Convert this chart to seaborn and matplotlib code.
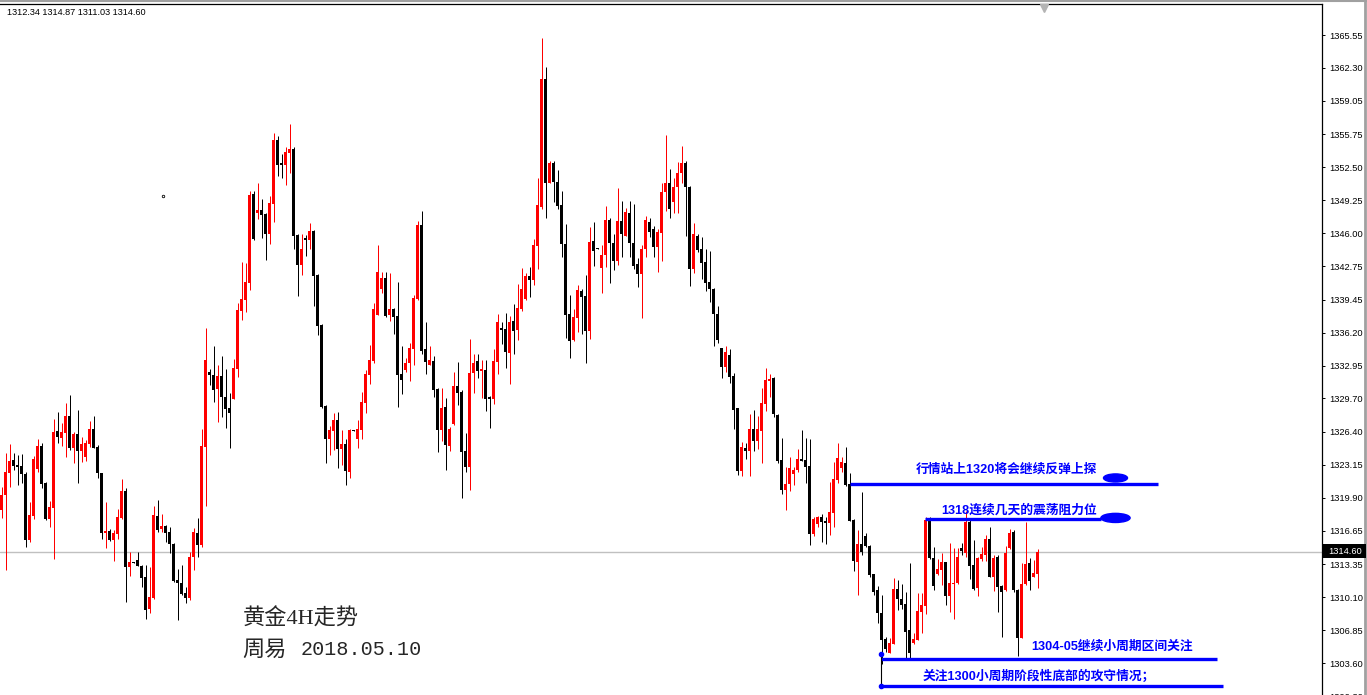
import matplotlib
matplotlib.use("Agg")
import numpy as np
import pandas as pd
import matplotlib.pyplot as plt
import seaborn as sns
from matplotlib.patches import Ellipse, Rectangle
from matplotlib.lines import Line2D

# gold 4H candles (open / high / low / close)
opens = [
    1318.70, 1320.18, 1322.38, 1323.63, 1323.14, 1323.04, 1322.25, 1315.74, 1318.11, 1322.71,
    1325.01, 1321.40, 1317.85, 1318.93, 1326.49, 1325.83, 1326.33, 1327.97, 1324.78, 1326.20,
    1324.55, 1323.96, 1325.21, 1326.69, 1324.95, 1322.32, 1316.47, 1316.63, 1315.74, 1316.33,
    1317.91, 1320.57, 1313.11, 1313.51, 1313.77, 1313.21, 1312.13, 1308.91, 1309.99, 1318.14,
    1316.83, 1317.12, 1316.53, 1315.35, 1311.80, 1311.54, 1310.48, 1310.02, 1314.07, 1316.47,
    1315.25, 1324.92, 1332.35, 1332.02, 1330.61, 1331.92, 1329.89, 1328.74, 1329.69, 1332.65,
    1338.37, 1339.42, 1341.13, 1349.87, 1348.03, 1348.29, 1347.90, 1345.93, 1348.88, 1355.20,
    1352.96, 1352.73, 1353.95, 1354.31, 1345.83, 1342.90, 1345.56, 1345.37, 1346.22, 1341.88,
    1336.95, 1328.96, 1325.71, 1326.53, 1327.58, 1324.75, 1325.21, 1322.49, 1326.50, 1325.74,
    1326.60, 1329.29, 1332.02, 1333.43, 1337.94, 1340.50, 1341.62, 1337.94, 1338.53, 1337.84,
    1332.11, 1332.51, 1333.17, 1334.58, 1339.55, 1346.81, 1334.55, 1333.04, 1333.40, 1330.64,
    1326.60, 1328.86, 1325.02, 1327.19, 1330.94, 1330.38, 1324.53, 1322.98, 1332.18, 1333.40,
    1332.45, 1332.51, 1329.82, 1329.62, 1333.33, 1336.56, 1336.56, 1334.22, 1337.34, 1336.46,
    1338.56, 1339.48, 1341.78, 1341.39, 1344.77, 1348.62, 1361.21, 1350.98, 1352.96, 1351.05,
    1348.78, 1344.94, 1338.04, 1335.47, 1337.67, 1340.30, 1339.81, 1336.36, 1345.20, 1344.48,
    1342.60, 1343.85, 1347.31, 1345.00, 1343.29, 1347.21, 1345.76, 1348.00, 1345.00, 1342.93,
    1341.98, 1344.41, 1347.08, 1346.38, 1344.68, 1346.06, 1350.03, 1350.92, 1349.11, 1350.59,
    1351.91, 1352.96, 1350.53, 1342.51, 1345.73, 1344.41, 1343.13, 1341.19, 1340.47, 1338.00,
    1334.65, 1332.84, 1333.99, 1331.92, 1328.73, 1322.55, 1324.82, 1324.56, 1326.66, 1325.55,
    1326.53, 1329.16, 1331.46, 1331.69, 1328.08, 1323.64, 1320.68, 1321.27, 1322.26, 1322.65,
    1323.74, 1323.64, 1323.05, 1316.34, 1317.33, 1317.99, 1317.53, 1317.46, 1318.45, 1321.67,
    1322.88, 1323.38, 1321.27, 1317.72, 1313.61, 1315.32, 1316.14, 1315.16, 1312.36, 1310.82,
    1308.52, 1305.99, 1304.64, 1305.49, 1310.92, 1309.93, 1309.44, 1306.87, 1305.56, 1305.89,
    1308.68, 1309.27, 1317.72, 1314.01, 1312.40, 1312.79, 1313.55, 1310.26, 1311.41, 1311.48,
    1314.93, 1314.43, 1317.56, 1313.28, 1310.98, 1313.88, 1314.27, 1315.85, 1312.13, 1314.11,
    1311.21, 1310.82, 1314.93, 1316.57, 1310.82, 1306.12, 1311.41, 1313.45, 1312.13, 1312.34,
]
highs = [
    1321.00, 1324.29, 1325.21, 1324.29, 1324.12, 1324.22, 1322.40, 1319.49, 1324.03, 1325.70,
    1325.27, 1321.45, 1319.56, 1327.64, 1328.36, 1327.25, 1329.22, 1330.04, 1326.43, 1328.56,
    1325.93, 1325.60, 1327.48, 1328.00, 1325.11, 1322.38, 1319.49, 1316.79, 1316.73, 1318.77,
    1321.76, 1320.90, 1314.56, 1313.55, 1314.56, 1313.28, 1313.28, 1313.08, 1319.10, 1319.69,
    1318.31, 1317.22, 1317.06, 1315.41, 1312.85, 1313.28, 1311.14, 1314.53, 1316.96, 1317.94,
    1326.69, 1336.65, 1332.58, 1334.88, 1333.01, 1333.90, 1332.65, 1330.21, 1333.57, 1339.09,
    1343.20, 1343.03, 1350.17, 1350.20, 1350.92, 1349.38, 1347.96, 1349.67, 1355.92, 1355.59,
    1353.81, 1354.54, 1356.77, 1354.54, 1345.92, 1345.92, 1345.83, 1347.04, 1346.32, 1341.95,
    1337.05, 1329.06, 1326.99, 1328.30, 1328.40, 1326.60, 1325.71, 1326.70, 1326.55, 1327.58,
    1330.38, 1332.51, 1334.98, 1339.15, 1344.84, 1342.18, 1342.18, 1342.11, 1338.66, 1341.22,
    1334.88, 1333.66, 1335.14, 1339.91, 1347.21, 1348.19, 1337.25, 1334.88, 1333.89, 1330.70,
    1330.71, 1329.78, 1326.86, 1332.35, 1333.30, 1330.54, 1326.33, 1335.57, 1334.12, 1334.12,
    1333.50, 1333.50, 1329.98, 1334.58, 1338.03, 1337.25, 1338.10, 1337.87, 1339.02, 1340.99,
    1342.57, 1342.11, 1342.64, 1345.43, 1351.48, 1365.28, 1362.42, 1353.12, 1353.12, 1352.23,
    1350.20, 1346.91, 1339.91, 1338.50, 1340.90, 1340.53, 1341.88, 1346.58, 1347.08, 1344.55,
    1344.84, 1348.69, 1347.47, 1345.89, 1350.43, 1349.18, 1348.46, 1349.21, 1348.88, 1343.52,
    1344.84, 1347.70, 1347.47, 1346.75, 1346.38, 1350.99, 1355.69, 1352.30, 1351.41, 1353.06,
    1354.64, 1353.12, 1350.66, 1347.01, 1345.92, 1345.60, 1344.45, 1344.25, 1340.57, 1338.82,
    1334.70, 1334.88, 1334.58, 1332.19, 1328.80, 1325.45, 1325.28, 1328.17, 1328.57, 1327.98,
    1330.71, 1332.68, 1332.12, 1331.80, 1328.15, 1325.78, 1322.92, 1323.90, 1322.98, 1324.69,
    1326.60, 1325.78, 1325.68, 1318.05, 1318.12, 1318.28, 1318.05, 1321.50, 1323.47, 1325.28,
    1323.97, 1324.95, 1322.32, 1317.80, 1316.74, 1320.52, 1316.41, 1315.20, 1312.40, 1311.21,
    1310.33, 1306.22, 1306.05, 1312.03, 1311.80, 1311.41, 1310.65, 1313.45, 1306.55, 1310.49,
    1310.49, 1318.05, 1317.98, 1315.03, 1313.84, 1314.43, 1313.61, 1315.42, 1314.93, 1314.93,
    1315.42, 1318.61, 1317.72, 1315.75, 1314.11, 1315.09, 1316.24, 1317.06, 1314.27, 1314.27,
    1311.30, 1315.16, 1316.80, 1316.74, 1310.90, 1313.45, 1317.56, 1314.01, 1313.78, 1314.87,
]
lows = [
    1317.88, 1312.78, 1321.00, 1322.65, 1321.17, 1321.40, 1315.08, 1315.58, 1317.78, 1322.48,
    1320.84, 1317.71, 1317.06, 1313.87, 1325.27, 1325.01, 1323.96, 1324.62, 1323.37, 1321.40,
    1323.47, 1323.53, 1324.95, 1324.78, 1321.82, 1315.81, 1314.99, 1315.64, 1313.70, 1315.87,
    1317.85, 1309.66, 1312.19, 1313.45, 1313.18, 1311.14, 1307.92, 1308.51, 1309.89, 1316.56,
    1316.56, 1315.58, 1314.43, 1311.63, 1307.85, 1310.32, 1309.50, 1309.83, 1312.78, 1314.10,
    1315.08, 1319.10, 1331.04, 1329.39, 1327.42, 1327.91, 1326.83, 1324.79, 1329.62, 1331.79,
    1337.45, 1338.27, 1340.40, 1345.33, 1347.37, 1345.56, 1343.36, 1344.94, 1347.14, 1351.65,
    1351.48, 1350.76, 1351.97, 1344.48, 1339.84, 1341.88, 1343.76, 1344.41, 1338.86, 1335.96,
    1328.73, 1323.37, 1324.13, 1324.62, 1322.88, 1323.14, 1321.17, 1321.89, 1326.45, 1324.82,
    1325.71, 1328.30, 1331.13, 1333.24, 1337.90, 1340.07, 1337.77, 1337.38, 1336.06, 1328.90,
    1330.14, 1332.35, 1331.46, 1333.01, 1339.42, 1334.09, 1332.11, 1333.01, 1329.88, 1324.46,
    1325.54, 1322.65, 1324.56, 1327.10, 1329.06, 1319.86, 1322.45, 1320.68, 1330.28, 1331.76,
    1329.72, 1328.50, 1326.83, 1329.16, 1332.11, 1335.08, 1332.74, 1331.10, 1334.09, 1335.47,
    1338.36, 1339.42, 1339.74, 1340.89, 1342.50, 1348.39, 1347.53, 1350.92, 1349.11, 1348.36,
    1343.69, 1335.70, 1333.66, 1335.37, 1336.29, 1336.06, 1333.24, 1335.54, 1342.77, 1344.40,
    1340.07, 1342.64, 1341.13, 1342.37, 1342.87, 1343.69, 1345.73, 1343.69, 1342.44, 1340.73,
    1337.61, 1343.69, 1345.66, 1343.69, 1342.18, 1343.29, 1348.23, 1347.47, 1347.96, 1347.96,
    1350.92, 1345.73, 1340.83, 1342.11, 1344.18, 1341.49, 1340.30, 1339.25, 1334.91, 1335.14,
    1331.69, 1332.35, 1331.26, 1326.70, 1322.16, 1322.09, 1323.74, 1322.09, 1324.56, 1324.69,
    1323.38, 1328.50, 1329.82, 1327.91, 1323.31, 1320.29, 1318.71, 1320.61, 1321.17, 1322.42,
    1323.50, 1321.40, 1315.26, 1316.18, 1317.06, 1315.59, 1315.36, 1316.24, 1317.06, 1321.40,
    1322.42, 1321.10, 1317.60, 1312.73, 1310.33, 1314.27, 1315.09, 1312.07, 1310.33, 1307.60,
    1303.52, 1304.67, 1304.57, 1305.45, 1308.85, 1308.91, 1304.08, 1304.08, 1305.49, 1305.85,
    1306.55, 1308.42, 1313.90, 1310.82, 1312.30, 1311.31, 1309.34, 1308.68, 1307.96, 1311.40,
    1314.27, 1314.11, 1311.87, 1310.82, 1310.23, 1313.71, 1313.71, 1312.07, 1310.75, 1308.68,
    1306.15, 1310.75, 1314.83, 1310.65, 1304.31, 1306.05, 1311.31, 1310.82, 1312.07, 1311.03,
]
closes = [
    1320.18, 1322.48, 1323.53, 1323.04, 1322.94, 1322.22, 1315.74, 1318.21, 1323.73, 1325.01,
    1321.26, 1317.81, 1319.00, 1326.39, 1325.87, 1326.39, 1327.97, 1324.78, 1326.20, 1324.55,
    1325.21, 1325.34, 1326.69, 1324.85, 1322.32, 1316.47, 1316.63, 1315.74, 1316.40, 1318.04,
    1320.57, 1313.11, 1313.57, 1313.48, 1313.21, 1312.03, 1308.84, 1310.09, 1318.21, 1316.73,
    1317.16, 1316.47, 1315.35, 1311.70, 1311.54, 1310.42, 1310.02, 1314.07, 1316.53, 1315.25,
    1325.01, 1333.50, 1332.02, 1330.54, 1331.92, 1329.89, 1328.70, 1328.31, 1332.68, 1338.43,
    1339.48, 1341.19, 1349.77, 1345.47, 1348.29, 1347.80, 1345.93, 1348.95, 1355.20, 1352.73,
    1352.73, 1353.98, 1354.31, 1345.73, 1342.90, 1344.45, 1345.37, 1346.22, 1341.78, 1336.85,
    1328.90, 1325.71, 1326.60, 1327.58, 1324.75, 1325.21, 1322.58, 1326.60, 1326.48, 1326.69,
    1329.39, 1332.12, 1333.50, 1338.53, 1342.18, 1341.62, 1337.84, 1338.53, 1337.77, 1332.02,
    1331.52, 1333.17, 1334.65, 1339.58, 1346.81, 1334.39, 1333.33, 1333.50, 1330.54, 1326.60,
    1328.80, 1325.12, 1326.73, 1330.94, 1330.28, 1324.46, 1322.98, 1332.25, 1333.24, 1332.45,
    1332.55, 1329.65, 1329.62, 1333.43, 1337.25, 1336.49, 1334.32, 1337.25, 1336.39, 1338.66,
    1340.53, 1341.78, 1341.39, 1344.84, 1348.78, 1361.21, 1350.98, 1352.96, 1351.05, 1348.72,
    1344.94, 1337.93, 1335.41, 1337.71, 1340.40, 1339.74, 1336.36, 1345.14, 1344.28, 1344.45,
    1343.85, 1347.31, 1345.00, 1343.29, 1347.21, 1345.92, 1348.06, 1345.00, 1342.80, 1341.98,
    1344.45, 1347.31, 1346.15, 1344.68, 1346.15, 1350.10, 1350.92, 1348.39, 1350.53, 1351.91,
    1352.89, 1350.53, 1342.51, 1345.92, 1344.35, 1343.10, 1341.12, 1340.47, 1338.00, 1335.47,
    1332.84, 1334.32, 1331.86, 1328.57, 1322.55, 1324.89, 1324.56, 1326.66, 1325.55, 1326.66,
    1329.23, 1331.53, 1331.59, 1328.14, 1323.57, 1320.68, 1321.27, 1322.88, 1322.65, 1323.74,
    1323.57, 1322.98, 1316.34, 1317.82, 1317.99, 1317.53, 1317.46, 1318.48, 1321.77, 1323.87,
    1323.47, 1321.17, 1317.66, 1313.68, 1315.32, 1314.60, 1315.16, 1312.30, 1310.65, 1308.52,
    1305.89, 1304.97, 1305.56, 1310.92, 1309.93, 1309.34, 1306.71, 1304.57, 1305.99, 1308.75,
    1309.34, 1317.72, 1313.94, 1311.25, 1312.86, 1313.61, 1310.26, 1311.48, 1311.54, 1314.11,
    1314.70, 1317.56, 1313.22, 1310.92, 1313.94, 1314.37, 1315.85, 1312.13, 1313.94, 1311.15,
    1310.65, 1314.43, 1316.47, 1310.82, 1306.12, 1311.41, 1313.38, 1311.74, 1312.53, 1314.60,
]

price_ticks = [1365.55, 1362.30, 1359.05, 1355.75, 1352.50, 1349.25, 1346.00, 1342.75,
               1339.45, 1336.20, 1332.95, 1329.70, 1326.40, 1323.15, 1319.90, 1316.65,
               1313.35, 1310.10, 1306.85, 1303.60, 1300.30]
last_bar = [1312.34, 1314.87, 1311.03, 1314.60]
current_price = 1314.60

# drawn levels and their notes
level_prices = [1321.27, 1317.79, 1303.98, 1301.35]
level_notes = ["行情站上1320将会继续反弹上探", "1318连续几天的震荡阻力位",
               "1304-05继续小周期区间关注", "关注1300小周期阶段性底部的攻守情况；"]
title_lines = ["黄金4H走势", "周易", "2018.05.10"]

df = pd.DataFrame({"open": opens, "high": highs, "low": lows, "close": closes})
df["x"] = np.arange(len(df))
df["up"] = df["close"] >= df["open"]
df["bottom"] = df[["open", "close"]].min(axis=1)
df["body"] = (df["close"] - df["open"]).abs().clip(lower=0.12)
colors = np.where(df["up"], "#ff0000", "#000000")

sns.set_style("white")
plt.rcParams["font.family"] = ["Liberation Sans", "Noto Sans CJK SC", "DejaVu Sans"]

W, H = 1367, 695
fig = plt.figure(figsize=(W / 100, H / 100), dpi=100)
fig.patch.set_facecolor("white")
ax = fig.add_axes([0, -0.0037, 1322 / W, 0.99794])
ax.set_facecolor("white")

ax.axhline(current_price, color="#c0c0c0", lw=1, zorder=1)
ax.vlines(df["x"], df["low"], df["high"], colors=colors, lw=0.72, zorder=2)
ax.bar(df["x"], df["body"], bottom=df["bottom"], width=0.75, color=colors,
       linewidth=0, zorder=3)

# 4 px per bar, bodies on whole pixels
ax.set_xlim(-0.375, -0.375 + 1322 / 4)
ax.set_ylim(1300.2, 1368.61)

# levels drawn on the chart
blue = "#0000ff"
spans = [(212.2, 289.0), (230.9, 274.75), (219.8, 303.75), (219.75, 305.25)]
for lvl, (x0, x1) in zip(level_prices, spans):
    ax.plot([x0, x1], [lvl, lvl], color=blue, lw=2.4, solid_capstyle="butt", zorder=5)
ax.plot([219.75, 219.75], [1304.5, 1301.35], color="black", lw=0.8, zorder=5)
ax.plot([219.75, 219.75], [1304.45, 1301.35], ls="none", marker="o", ms=3,
        color=blue, zorder=6)
ax.add_patch(Ellipse((278.5, 1321.86), 6.0, 0.8, color=blue, zorder=6))
ax.add_patch(Ellipse((278.5, 1317.92), 7.3, 0.9, color=blue, zorder=6))

note_pos = [(228.5, 1322.75), (235.0, 1318.7), (257.5, 1305.2), (230.25, 1302.3)]
for (tx, ty), note in zip(note_pos, level_notes):
    ax.text(tx, ty, note, color=blue, fontsize=9.2, fontweight="bold", va="center",
            ha="left", family=["Liberation Sans", "Noto Sans CJK SC"], zorder=7)

ax.text(60.25, 1307.98, title_lines[0], fontsize=16, va="center", ha="left",
        family=["Liberation Serif", "Noto Sans CJK SC"])
ax.text(60.25, 1304.93, title_lines[1], fontsize=16, va="center", ha="left",
        family=["Noto Sans CJK SC"])
ax.text(74.75, 1304.93, title_lines[2], fontsize=14.5, va="center", ha="left",
        family=["Liberation Mono"])

ax.plot([40.25], [1349.67], marker="o", ms=1.8, mfc="white", mec="black", mew=0.6)
ax.plot([260.5], [1368.25], marker="v", ms=6, color="#b4b4b4", clip_on=False, zorder=8)

# axis frame like a trading terminal
for side in ["left", "bottom"]:
    ax.spines[side].set_visible(False)
for side in ["top", "right"]:
    ax.spines[side].set_visible(True)
    ax.spines[side].set_color("black")
    ax.spines[side].set_linewidth(0.9)
ax.set_xticks([])
ax.yaxis.tick_right()
ax.set_yticks(price_ticks)
ax.set_yticklabels([f"{t:.2f}" for t in price_ticks])
ax.tick_params(axis="y", direction="out", length=2.5, width=0.7, pad=3,
               labelsize=6.7, colors="black", right=True, left=False)
ax.grid(False)

# current price tag on the scale
fig.add_artist(Rectangle((1322 / W, (H - 558) / H), 44 / W, 14 / H,
                         transform=fig.transFigure, facecolor="black",
                         edgecolor="none", zorder=9))
fig.text(1328 / W, (H - 551) / H, f"{current_price:.2f}", color="white",
         fontsize=6.7, va="center", ha="left", zorder=10)

fig.text(7 / W, (H - 12.5) / H, " ".join(f"{v:.2f}" for v in last_bar),
         fontsize=6.6, va="center", ha="left", color="black")

fig.add_artist(Line2D([0, 1], [1 - 0.8 / H, 1 - 0.8 / H], transform=fig.transFigure,
                      color="#a0a0a0", lw=1.5))
fig.add_artist(Line2D([1 - 2 / W, 1 - 2 / W], [0, 1], transform=fig.transFigure,
                      color="#a0a0a0", lw=2))

fig.savefig("out.png", dpi=100, facecolor="white")
